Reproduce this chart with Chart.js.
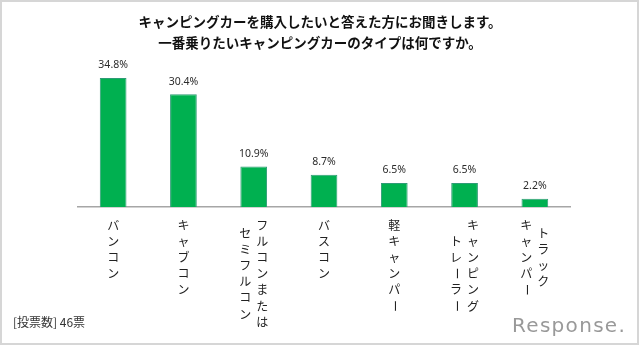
<!DOCTYPE html>
<html>
<head>
<meta charset="utf-8">
<script src="https://cdn.jsdelivr.net/npm/chart.js@4/dist/chart.umd.min.js"></script>
<style>
  html, body { margin: 0; padding: 0; background: #ffffff; }
  canvas { display: block; }
</style>
</head>
<body>
<canvas id="chart" width="640" height="345"></canvas>
<script>
// Survey question (two title lines)
const titleLines = [
  'キャンピングカーを購入したいと答えた方にお聞きします。',
  '一番乗りたいキャンピングカーのタイプは何ですか。'
];

// Category labels, written vertically; each inner entry is one column (right to left)
const categoryColumns = [
  ['バンコン'],
  ['キャブコン'],
  ['フルコンまたは', 'セミフルコン'],
  ['バスコン'],
  ['軽キャンパー'],
  ['キャンピング', '　トレーラー'],
  ['トラック', 'キャンパー']
];
const categoryNames = categoryColumns.map(cols => cols.map(s => s.trim()).join(''));

// Share of votes per type (%)
const shares = [34.8, 30.4, 10.9, 8.7, 6.5, 6.5, 2.2];

const footnote = '[投票数] 46票';
const brand = 'Response.';

const JP_FONT = '"Noto Sans CJK JP", "Noto Sans", sans-serif';

// Draws frame, title, value labels, vertical category labels, footnote and brand
const decorations = {
  id: 'decorations',
  beforeDraw(chart) {
    const ctx = chart.ctx;
    ctx.save();
    ctx.fillStyle = '#ffffff';
    ctx.fillRect(0, 0, chart.width, chart.height);
    ctx.restore();
  },
  afterDraw(chart) {
    const ctx = chart.ctx;
    const xScale = chart.scales.x;
    const meta = chart.getDatasetMeta(0);
    ctx.save();

    // outer frame
    ctx.strokeStyle = '#d6d6d6';
    ctx.lineWidth = 2;
    ctx.strokeRect(1, 1, chart.width - 3, chart.height - 2);

    // title
    ctx.fillStyle = '#111111';
    ctx.font = 'bold 13.5px ' + JP_FONT;
    ctx.textAlign = 'center';
    ctx.textBaseline = 'middle';
    ctx.fillText(titleLines[0], 320, 22);
    ctx.fillText(titleLines[1], 320, 43);

    // value labels above bars
    ctx.fillStyle = '#2b2b2b';
    ctx.font = '10.5px "Noto Sans", sans-serif';
    meta.data.forEach((bar, i) => {
      ctx.fillText(shares[i].toFixed(1) + '%', bar.x, bar.y - 12.5);
    });

    // vertical category labels
    const adv = 16.2;
    const colGap = 17;
    const topY = 225;
    ctx.fillStyle = '#222222';
    ctx.font = '12px ' + JP_FONT;
    categoryColumns.forEach((cols, i) => {
      const cx = xScale.getPixelForValue(i);
      const maxLen = Math.max(...cols.map(c => [...c].length));
      cols.forEach((col, j) => {
        const chars = [...col];
        const x = cx + (cols.length - 1) * colGap / 2 - j * colGap;
        const y0 = topY + (maxLen - chars.length) * adv / 2;
        chars.forEach((ch, k) => {
          const y = y0 + k * adv;
          if (ch === 'ー') {
            ctx.save();
            ctx.translate(x, y);
            ctx.rotate(Math.PI / 2);
            ctx.fillText(ch, 0, 0);
            ctx.restore();
          } else {
            ctx.fillText(ch, x, y);
          }
        });
      });
    });

    // footnote
    ctx.textAlign = 'left';
    ctx.fillStyle = '#333333';
    ctx.font = '12px ' + JP_FONT;
    ctx.fillText(footnote, 13, 322);

    // brand
    ctx.fillStyle = '#999999';
    ctx.font = '20px "DejaVu Sans", sans-serif';
    ctx.letterSpacing = '1.3px';
    ctx.textBaseline = 'alphabetic';
    ctx.fillText(brand, 512, 332);

    ctx.restore();
  }
};

new Chart(document.getElementById('chart'), {
  type: 'bar',
  data: {
    labels: categoryNames,
    datasets: [{
      data: shares,
      backgroundColor: '#00b050',
      borderColor: '#2f9b76',
      borderWidth: 1,
      barPercentage: 0.38,
      categoryPercentage: 1
    }]
  },
  options: {
    responsive: false,
    animation: false,
    devicePixelRatio: 1,
    layout: { padding: { left: 78, right: 70, top: 58.7, bottom: 138 } },
    plugins: {
      legend: { display: false },
      title: { display: false },
      tooltip: { enabled: false }
    },
    scales: {
      x: {
        grid: { display: false, drawTicks: false },
        border: { display: true, color: '#a6a6a6', width: 1.5 },
        ticks: { display: false }
      },
      y: { display: false, min: 0, max: 40 }
    }
  },
  plugins: [decorations]
});
</script>
</body>
</html>
